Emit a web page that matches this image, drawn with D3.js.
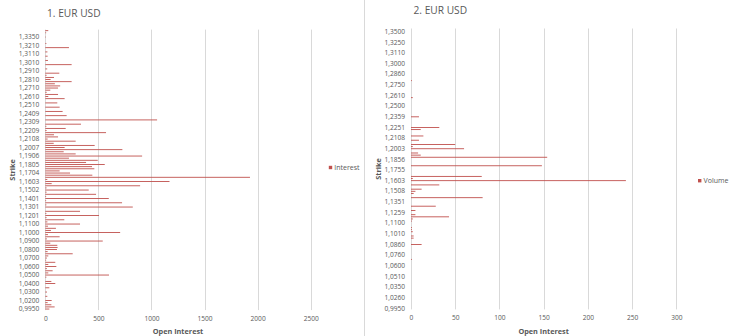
<!DOCTYPE html>
<html>
<head>
<meta charset="utf-8">
<script src="https://cdn.jsdelivr.net/npm/d3@7/dist/d3.min.js"></script>
<style>
  body { margin: 0; background: #fff; }
  svg { display: block; }
  text { font-family: 'Open Sans', sans-serif; fill: #595959; }
</style>
</head>
<body>
<svg id="chart" width="730" height="336"></svg>
<script>
// Strike prices, lowest first (bottom of the category axis)
const strikes = [
  "0,9950","1,0050","1,0100","1,0150","1,0200","1,0260","1,0275","1,0290","1,0300","1,0325",
  "1,0350","1,0375","1,0400","1,0425","1,0450","1,0510","1,0500","1,0525","1,0550","1,0575",
  "1,0600","1,0625","1,0650","1,0675","1,0700","1,0760","1,0770","1,0785","1,0800","1,0825",
  "1,0860","1,0875","1,0900","1,0925","1,0950","1,1010","1,1000","1,1025","1,1050","1,1075",
  "1,1100","1,1125","1,1150","1,1175","1,1201","1,1259","1,1276","1,1288","1,1301","1,1326",
  "1,1351","1,1376","1,1401","1,1426","1,1452","1,1508","1,1502","1,1527","1,1552","1,1578",
  "1,1603","1,1628","1,1653","1,1678","1,1704","1,1755","1,1770","1,1790","1,1805","1,1830",
  "1,1856","1,1881","1,1906","1,1931","1,1956","1,2003","1,2007","1,2032","1,2057","1,2082",
  "1,2108","1,2133","1,2158","1,2183","1,2209","1,2251","1,2259","1,2284","1,2309","1,2334",
  "1,2359","1,2384","1,2409","1,2434","1,2460","1,2500","1,2510","1,2535","1,2560","1,2585",
  "1,2610","1,2635","1,2660","1,2685","1,2710","1,2750","1,2760","1,2785","1,2810","1,2835",
  "1,2860","1,2885","1,2910","1,2935","1,2960","1,3000","1,3010","1,3035","1,3060","1,3085",
  "1,3110","1,3135","1,3160","1,3185","1,3210","1,3250","1,3275","1,3300","1,3350","1,3400",
  "1,3500","1,3600"
];

// Open interest per strike
const interest = [
  38, 88, 57, 22, 60, 0, 19, 0, 16, 0,
  38, 0, 94, 57, 0, 10, 600, 28, 69, 15,
  104, 28, 94, 8, 15, 28, 258, 22, 110, 116,
  113, 47, 541, 15, 135, 25, 705, 53, 100, 25,
  327, 20, 179, 12, 506, 10, 327, 0, 824, 10,
  723, 8, 598, 8, 478, 12, 409, 12, 893, 60,
  1170, 19, 1928, 443, 233, 135, 462, 440, 560, 384,
  494, 223, 912, 286, 173, 726, 182, 465, 79, 286,
  22, 120, 82, 572, 12, 192, 10, 336, 0, 1053,
  0, 201, 0, 163, 0, 135, 0, 113, 0, 182,
  28, 120, 13, 47, 120, 140, 90, 248, 50, 82,
  12, 132, 0, 18, 0, 248, 0, 25, 0, 22,
  0, 20, 0, 223, 0, 10, 0, 0, 5, 0,
  8, 28
];

// Traded volume per strike
const volume = [
  0, 0, 0, 0, 0, 0, 0, 0, 0, 0,
  0, 0, 0, 0, 0, 0, 0, 0, 0, 0,
  0, 0, 0, 1, 0, 0, 0, 0, 0, 0,
  12, 0, 0, 3, 3, 0, 2, 1, 1, 0,
  0, 1, 2, 43, 5, 0, 5, 0, 28, 0,
  0, 0, 81, 0, 3, 5, 12, 0, 32, 0,
  243, 2, 80, 0, 0, 0, 0, 148, 0, 0,
  0, 154, 11, 8, 0, 60, 2, 50, 0, 9,
  0, 14, 0, 0, 11, 32, 0, 0, 0, 0,
  9, 0, 0, 0, 0, 0, 0, 0, 0, 2,
  0, 0, 0, 0, 0, 0, 0, 1, 0, 0,
  0, 0, 0, 0, 0, 0, 0, 0, 0, 0,
  0, 0, 0, 0, 0, 0, 0, 0, 0, 0,
  0, 0
];

const interestTicks = [0, 500, 1000, 1500, 2000, 2500];
const volumeTicks = [0, 50, 100, 150, 200, 250, 300];

const svg = d3.select("#chart");
svg.append("rect").attr("width", 730).attr("height", 336).attr("fill", "#fff");

// divider between the two chart objects
svg.append("line")
  .attr("x1", 364.5).attr("x2", 364.5).attr("y1", 0).attr("y2", 336)
  .attr("stroke", "#d9d9d9").attr("stroke-width", 1);

const BAR_COLOR = "#C0504D";
const GRID_COLOR = "#d9d9d9";

function drawPanel(p) {
  const g = svg.append("g");
  const x = d3.scaleLinear().domain([0, p.ticks[p.ticks.length - 1]]).range([p.left, p.right]);
  const y = d3.scaleBand().domain(strikes).range([p.bottom, p.top])
    .paddingInner(p.pad).paddingOuter(p.pad / 2);

  // vertical gridlines
  g.append("g").selectAll("line").data(p.ticks).join("line")
    .attr("x1", d => Math.round(x(d)) + 0.5).attr("x2", d => Math.round(x(d)) + 0.5)
    .attr("y1", p.top).attr("y2", p.bottom)
    .attr("stroke", GRID_COLOR).attr("stroke-width", 1);

  // bars
  g.append("g").selectAll("rect").data(strikes.map((s, i) => ({ s, v: p.values[i] }))).join("rect")
    .attr("x", x(0))
    .attr("y", d => y(d.s))
    .attr("height", y.bandwidth())
    .attr("width", d => Math.max(0, x(d.v) - x(0)))
    .attr("fill", BAR_COLOR);

  // category axis
  const yAxis = d3.axisLeft(y)
    .tickValues(strikes.filter((d, i) => i % p.interval === 0))
    .tickSize(0).tickPadding(6);
  const ya = g.append("g").attr("transform", `translate(${p.left},0)`).call(yAxis);
  ya.select(".domain").remove();
  ya.selectAll("text").attr("font-size", p.tickFont).attr("fill", "#595959")
    .style("font-family", "'Open Sans', sans-serif");

  // value axis labels
  const xAxis = d3.axisBottom(x).tickValues(p.ticks).tickFormat(d3.format("d"))
    .tickSize(0).tickPadding(6);
  const xa = g.append("g").attr("transform", `translate(0,${p.bottom})`).call(xAxis);
  xa.select(".domain").remove();
  xa.selectAll("text").attr("font-size", p.tickFont).attr("fill", "#595959")
    .style("font-family", "'Open Sans', sans-serif");

  // title
  g.append("text").attr("x", p.titleX).attr("y", p.titleY)
    .attr("font-size", 10.2).attr("fill", "#6a6a6a").text(p.title);

  // axis titles
  g.append("text").attr("x", (p.left + p.right) / 2).attr("y", 334)
    .attr("text-anchor", "middle").attr("font-size", 7.3).attr("font-weight", "bold")
    .text("Open Interest");
  g.append("text")
    .attr("transform", `translate(${p.strikeX},${(p.top + p.bottom) / 2}) rotate(-90)`)
    .attr("text-anchor", "middle").attr("font-size", 7.3).attr("font-weight", "bold")
    .text("Strike");

  // legend
  g.append("rect").attr("x", p.legendX).attr("y", p.legendY - 1.7)
    .attr("width", 3.4).attr("height", 3.4).attr("fill", BAR_COLOR);
  g.append("text").attr("x", p.legendX + 5.5).attr("y", p.legendY)
    .attr("dy", "0.35em").attr("font-size", 7).text(p.legend);
}

drawPanel({
  values: interest, ticks: interestTicks, interval: 4,
  left: 45.3, right: 310.7, top: 29.6, bottom: 310.1, pad: 0.58,
  title: "1. EUR USD", titleX: 47, titleY: 17,
  strikeX: 14.5, legend: "Interest", legendX: 328.8, legendY: 167.5,
  tickFont: 6.6
});

drawPanel({
  values: volume, ticks: volumeTicks, interval: 5,
  left: 411, right: 676.3, top: 28.5, bottom: 309.4, pad: 0.58,
  title: "2. EUR USD", titleX: 413.5, titleY: 14,
  strikeX: 380.5, legend: "Volume", legendX: 698, legendY: 180.7,
  tickFont: 6.6
});
</script>
</body>
</html>
